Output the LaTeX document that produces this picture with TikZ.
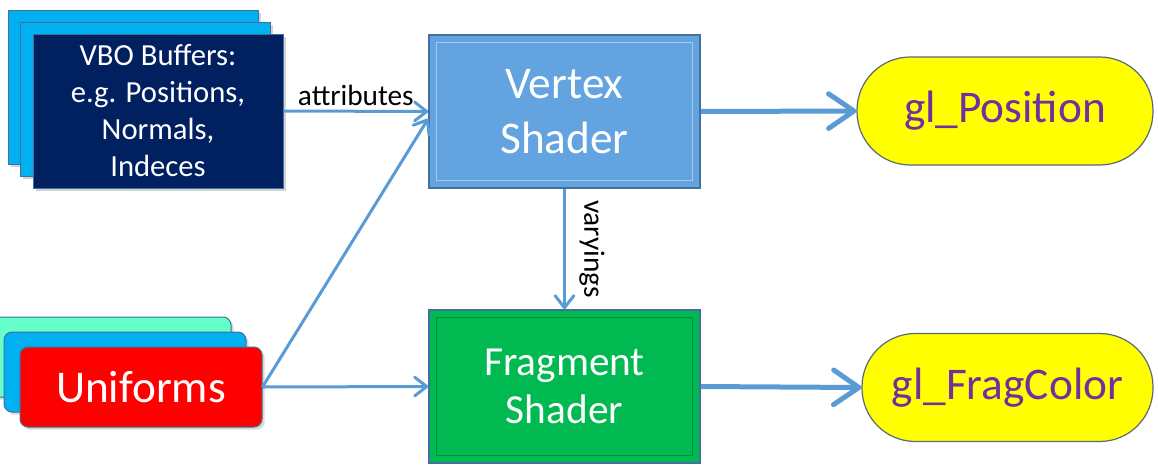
\documentclass[tikz,border=0pt]{standalone}
\usepackage{fontspec}
\setmainfont{Carlito}
\usetikzlibrary{arrows.meta,shadows}
\definecolor{vbonavy}{HTML}{002060}
\definecolor{skyblue}{HTML}{00B0F0}
\definecolor{aqua}{HTML}{66FFCC}
\definecolor{vertexblue}{HTML}{63A3DF}
\definecolor{fragreen}{HTML}{00B950}
\definecolor{edgeblue}{HTML}{41719C}
\definecolor{flowblue}{HTML}{5B9BD5}
\definecolor{outpurple}{HTML}{7030A0}
\definecolor{outedge}{HTML}{5A6878}
\definecolor{outyellow}{HTML}{FFFF00}
\begin{document}
\begin{tikzpicture}[x=0.75pt,y=-0.75pt,
    buffer/.style={draw=edgeblue,line width=0.75pt,minimum width=187.5pt,minimum height=115.5pt,
      drop shadow={shadow xshift=2pt,shadow yshift=-2pt,opacity=0.35}},
    uniform/.style={draw=edgeblue,line width=0.75pt,rounded corners=6pt,minimum width=181.5pt,minimum height=60pt,
      drop shadow={shadow xshift=2pt,shadow yshift=-2pt,opacity=0.3}},
    shader/.style={draw=edgeblue,line width=1.2pt,minimum width=203.25pt,minimum height=114.75pt,
      text=white,align=center},
    bevel/.style={line width=1pt,opacity=0.6},
    output/.style={draw=outedge,line width=0.9pt,fill=outyellow,rounded corners=40pt,minimum height=81pt,
      text=outpurple,font=\fontsize{34}{38}\selectfont},
    thinflow/.style={draw=flowblue,line width=2.25pt,-{Straight Barb[length=9pt,width=14pt,round]}},
    thickflow/.style={draw=flowblue,line width=3.75pt,-{Straight Barb[length=19pt,width=26pt,round]}},
    flowlabel/.style={font=\fontsize{22}{26}\selectfont}]
  \useasboundingbox (0,0) rectangle (1158,465);

  % vertex buffers
  \node[buffer,fill=skyblue] (vbo2) at (133.5,87) {};
  \node[buffer,fill=skyblue] (vbo1) at (145.5,99) {};
  \node[buffer,fill=vbonavy,text=white,align=center,font=\fontsize{23}{27.75}\selectfont]
    (vbo) at (158,111) {VBO Buffers:\\e.g. Positions,\\Normals,\\Indeces};

  % uniforms
  \node[uniform,fill=aqua] (uni2) at (110,357) {};
  \node[uniform,fill=skyblue] (uni1) at (125,372) {};
  \node[uniform,fill=red,text=white,font=\fontsize{34}{40}\selectfont] (uni) at (141,387) {Uniforms};

  % shaders
  \node[shader,fill=vertexblue,font=\fontsize{34}{41.25}\selectfont] (vertex) at (564.5,111.5) {Vertex\\Shader};
  \node[shader,fill=fragreen,font=\fontsize{31}{36}\selectfont] (frag) at (564.5,386.5) {Fragment\\Shader};
  \draw[bevel,draw=white!70!vertexblue] ([shift={(8,8)}]vertex.north west) rectangle ([shift={(-8,-8)}]vertex.south east);
  \draw[bevel,draw=black!40!fragreen] ([shift={(8,8)}]frag.north west) rectangle ([shift={(-8,-8)}]frag.south east);

  % outputs
  \node[output,minimum width=222pt] (glpos) at (1005,111) {gl\_Position};
  \node[output,minimum width=218.25pt] (glfrag) at (1007.5,387.5) {gl\_FragColor};

  \begin{scope}[thinflow]
    \draw (vbo.east) -- node[flowlabel,above] {attributes} (vertex.west);
    \draw (uni.east) -- (vertex.183);
    \draw (uni.east) -- (frag.west);
    \draw (vertex.south) -- node[flowlabel,midway,rotate=-90,anchor=south,inner sep=10pt] {varyings} (frag.north);
  \end{scope}
  \begin{scope}[thickflow]
    \draw (vertex.east) -- (glpos.west);
    \draw (frag.east) -- (glfrag.west);
  \end{scope}
\end{tikzpicture}
\end{document}
